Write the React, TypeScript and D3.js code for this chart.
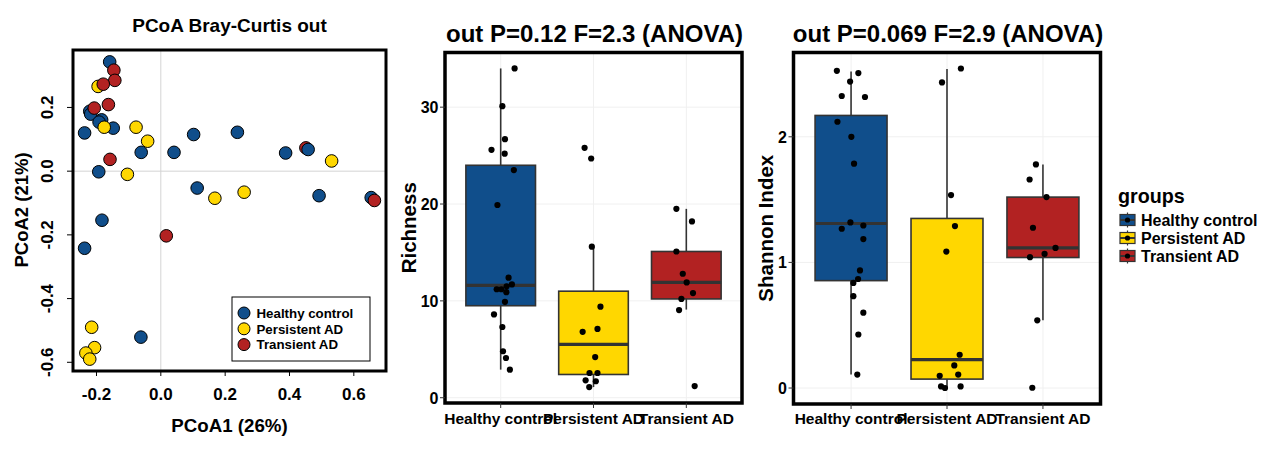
import React from "react";
import * as d3 from "d3";

const groups = ["Healthy control", "Persistent AD", "Transient AD"];
const groupColors = ["#104E8B", "#FFD700", "#B22222"];

// PCoA points (draw order)
const pcoaGroup = [
  0, 0, 0, 0, 0, 0, 0, 0, 0, 0, 0, 0, 0, 0, 2, 0, 0, 0, 0, 0, 0,
  1, 1, 1, 1, 1, 1, 1, 1, 1, 1, 1, 1,
  2, 2, 2, 2, 2, 2, 2, 2,
];
const pcoaX = [
  -0.159, -0.221, -0.218, -0.184, -0.192, -0.148, -0.237, -0.061, 0.041, 0.102, 0.238, -0.193, 0.113, 0.388, 0.451, 0.458, 0.492, 0.654, -0.183, -0.237, -0.062,
  -0.195, -0.176, -0.077, -0.041, -0.104, 0.168, 0.259, 0.531, -0.215, -0.206, -0.233, -0.221,
  -0.146, -0.143, -0.179, -0.207, -0.163, -0.158, 0.664, 0.017,
];
const pcoaY = [
  0.343, 0.188, 0.179, 0.161, 0.154, 0.135, 0.12, 0.059, 0.059, 0.115, 0.122, -0.002, -0.053, 0.057, 0.073, 0.068, -0.077, -0.083, -0.154, -0.242, -0.521,
  0.266, 0.138, 0.138, 0.094, -0.01, -0.085, -0.066, 0.032, -0.49, -0.554, -0.571, -0.59,
  0.317, 0.285, 0.273, 0.198, 0.209, 0.037, -0.092, -0.203,
];
const pcoaXTicks = [-0.2, 0.0, 0.2, 0.4, 0.6];
const pcoaYTicks = [-0.6, -0.4, -0.2, 0.0, 0.2];

// Richness
const richValues = [
  [34.0, 30.1, 26.7, 25.6, 25.2, 23.5, 19.9, 12.4, 11.7, 11.5, 11.2, 11.2, 10.9, 9.9, 8.6, 7.3, 4.8, 4.1, 2.9],
  [25.8, 24.7, 15.6, 9.4, 7.1, 6.8, 4.2, 2.55, 2.55, 1.8, 1.7, 1.1],
  [19.5, 18.2, 15.1, 12.8, 11.9, 10.8, 10.2, 9.05, 1.2],
];
const richJitter = [
  [0.15, 0.018, 0.046, -0.099, 0.043, 0.142, -0.035, 0.085, 0.121, 0.064, -0.043, 0.007, 0.061, 0.046, -0.072, 0.018, 0.025, 0.057, 0.099],
  [-0.096, -0.025, -0.018, 0.075, 0.043, -0.117, 0.018, -0.043, 0.043, -0.085, 0.025, -0.046],
  [-0.107, 0.061, -0.107, -0.038, 0.004, 0.072, -0.053, -0.078, 0.09],
];
const richLo = [2.9, 1.1, 9.1];
const richQ1 = [9.5, 2.4, 10.2];
const richMed = [11.6, 5.5, 11.9];
const richQ3 = [24.0, 11.0, 15.1];
const richHi = [34.0, 15.6, 19.5];
const richTicks = [0, 10, 20, 30];

// Shannon
const shanValues = [
  [2.525, 2.507, 2.44, 2.325, 2.317, 2.12, 2.0, 1.786, 1.318, 1.294, 1.268, 1.186, 0.936, 0.868, 0.837, 0.731, 0.6, 0.426, 0.107],
  [2.544, 2.433, 1.536, 1.289, 1.086, 0.265, 0.18, 0.097, 0.107, 0.013, 0.0, 0.013],
  [1.78, 1.66, 1.52, 1.276, 1.115, 1.068, 1.042, 0.539, 0.002],
];
const shanJitter = [
  [-0.148, 0.076, -0.01, -0.097, 0.145, -0.142, 0.003, 0.031, -0.007, 0.128, -0.097, 0.128, 0.093, 0.073, 0.024, 0.024, 0.128, 0.076, 0.065],
  [0.145, -0.052, 0.042, 0.083, -0.007, 0.132, 0.076, -0.076, 0.117, -0.062, -0.021, 0.142],
  [-0.073, -0.139, 0.037, -0.104, 0.131, 0.017, -0.135, -0.059, -0.111],
];
const shanLo = [0.107, 0.0, 0.54];
const shanQ1 = [0.855, 0.071, 1.039];
const shanMed = [1.31, 0.226, 1.115];
const shanQ3 = [2.17, 1.35, 1.52];
const shanHi = [2.52, 2.54, 1.78];
const shanTicks = [0, 1, 2];

const FONT = "'Liberation Sans', Arial, Helvetica, sans-serif";

function PCoA() {
  const left = 73, right = 386, top = 50, bottom = 371;
  const xe = d3.extent(pcoaX) as [number, number];
  const ye = d3.extent(pcoaY) as [number, number];
  const xp = (xe[1] - xe[0]) * 0.04;
  const yp = (ye[1] - ye[0]) * 0.04;
  const x = d3.scaleLinear().domain([xe[0] - xp, xe[1] + xp]).range([left, right]);
  const y = d3.scaleLinear().domain([ye[0] - yp, ye[1] + yp]).range([bottom, top]);
  const lx = 232, ly = 297;
  return (
    <g fontFamily={FONT} fontWeight="bold">
      <text x={229.5} y={32} textAnchor="middle" fontSize={19}>PCoA Bray-Curtis out</text>
      <line x1={x(0)} x2={x(0)} y1={top} y2={bottom} stroke="#d4d4d4" strokeWidth={1} />
      <line x1={left} x2={right} y1={y(0)} y2={y(0)} stroke="#d4d4d4" strokeWidth={1} />
      {pcoaX.map((v, i) => (
        <circle key={i} cx={x(v)} cy={y(pcoaY[i])} r={6.3} fill={groupColors[pcoaGroup[i]]} stroke="#000" strokeWidth={1} />
      ))}
      <rect x={lx} y={ly} width={138} height={64} fill="#fff" stroke="#000" strokeWidth={1} />
      {groups.map((g, i) => (
        <g key={g}>
          <circle cx={lx + 12} cy={ly + 16 + i * 15.8} r={6} fill={groupColors[i]} stroke="#000" strokeWidth={1} />
          <text x={lx + 24.5} y={ly + 16 + i * 15.8 + 4.7} fontSize={13.3}>{g}</text>
        </g>
      ))}
      <rect x={left} y={top} width={right - left} height={bottom - top} fill="none" stroke="#000" strokeWidth={3} />
      {pcoaXTicks.map((t) => (
        <g key={t}>
          <line x1={x(t)} x2={x(t)} y1={bottom} y2={bottom + 5} stroke="#000" strokeWidth={1} />
          <text x={x(t)} y={400} textAnchor="middle" fontSize={17}>{t.toFixed(1)}</text>
        </g>
      ))}
      {pcoaYTicks.map((t) => (
        <g key={t}>
          <line x1={left - 6} x2={left} y1={y(t)} y2={y(t)} stroke="#000" strokeWidth={1} />
          <text transform={`translate(53,${y(t)}) rotate(-90)`} textAnchor="middle" fontSize={17}>{t.toFixed(1)}</text>
        </g>
      ))}
      <text x={229.5} y={432} textAnchor="middle" fontSize={18.7}>PCoA1 (26%)</text>
      <text transform={`translate(28,210) rotate(-90)`} textAnchor="middle" fontSize={18.5}>PCoA2 (21%)</text>
    </g>
  );
}

type BoxProps = {
  left: number; right: number; top: number; bottom: number;
  title: string; ylab: string; ylabX: number;
  values: number[][]; jitter: number[][];
  lo: number[]; q1: number[]; med: number[]; q3: number[]; hi: number[];
  ticks: number[];
};

function BoxPanel(p: BoxProps) {
  const all = p.values.flat();
  const ext = d3.extent(all) as [number, number];
  const pad = (ext[1] - ext[0]) * 0.05;
  const y = d3.scaleLinear().domain([ext[0] - pad, ext[1] + pad]).range([p.bottom, p.top]);
  const x = d3.scalePoint<string>().domain(groups).range([p.left, p.right]).padding(0.6);
  const step = x.step();
  const bw = step * 0.75;
  const cx = (p.left + p.right) / 2;
  const cy = (p.top + p.bottom) / 2;
  return (
    <g fontFamily={FONT} fontWeight="bold">
      <text x={cx + 1} y={42} textAnchor="middle" fontSize={24}>{p.title}</text>
      {p.ticks.map((t) => (
        <line key={"g" + t} x1={p.left} x2={p.right} y1={y(t)} y2={y(t)} stroke="#f0f0f0" strokeWidth={1} />
      ))}
      {groups.map((g) => (
        <line key={"gv" + g} x1={x(g)} x2={x(g)} y1={p.top} y2={p.bottom} stroke="#f0f0f0" strokeWidth={1} />
      ))}
      {groups.map((g, i) => {
        const c = x(g) as number;
        return (
          <g key={g}>
            <line x1={c} x2={c} y1={y(p.hi[i])} y2={y(p.q3[i])} stroke="#333" strokeWidth={1.6} />
            <line x1={c} x2={c} y1={y(p.q1[i])} y2={y(p.lo[i])} stroke="#333" strokeWidth={1.6} />
            <rect x={c - bw / 2} y={y(p.q3[i])} width={bw} height={y(p.q1[i]) - y(p.q3[i])} fill={groupColors[i]} stroke="#333" strokeWidth={1.6} />
            <line x1={c - bw / 2} x2={c + bw / 2} y1={y(p.med[i])} y2={y(p.med[i])} stroke="#333" strokeWidth={3.2} />
          </g>
        );
      })}
      {groups.map((g, i) =>
        p.values[i].map((v, j) => (
          <circle key={g + j} cx={(x(g) as number) + p.jitter[i][j] * step} cy={y(v)} r={3.1} fill="#000" />
        ))
      )}
      <rect x={p.left} y={p.top} width={p.right - p.left} height={p.bottom - p.top} fill="none" stroke="#000" strokeWidth={3.5} />
      {p.ticks.map((t) => (
        <g key={t}>
          <line x1={p.left - 5} x2={p.left} y1={y(t)} y2={y(t)} stroke="#333" strokeWidth={1} />
          <text x={p.left - 6.5} y={y(t) + 5.8} textAnchor="end" fontSize={16}>{t}</text>
        </g>
      ))}
      {groups.map((g) => (
        <g key={"xt" + g}>
          <line x1={x(g)} x2={x(g)} y1={p.bottom} y2={p.bottom + 5} stroke="#333" strokeWidth={1} />
          <text x={x(g)} y={424} textAnchor="middle" fontSize={15.5}>{g}</text>
        </g>
      ))}
      <text transform={`translate(${p.ylabX},${cy}) rotate(-90)`} textAnchor="middle" fontSize={20.5}>{p.ylab}</text>
    </g>
  );
}

function Legend() {
  const kx = 1119, ks = 17;
  return (
    <g fontFamily={FONT} fontWeight="bold">
      <text x={1118} y={203} fontSize={19.7}>groups</text>
      {groups.map((g, i) => {
        const cyy = 220 + i * 18;
        const ty = cyy - ks / 2;
        return (
          <g key={g}>
            <line x1={kx + ks / 2} x2={kx + ks / 2} y1={ty + 1} y2={ty + ks - 1} stroke="#333" strokeWidth={1.2} />
            <rect x={kx + 1} y={ty + 3} width={ks - 2} height={ks - 6} fill={groupColors[i]} stroke="#333" strokeWidth={1.2} />
            <line x1={kx + 1} x2={kx + ks - 1} y1={cyy} y2={cyy} stroke="#333" strokeWidth={2} />
            <circle cx={kx + ks / 2} cy={cyy} r={2.6} fill="#000" />
            <text x={1141} y={cyy + 5.8} fontSize={16}>{g}</text>
          </g>
        );
      })}
    </g>
  );
}

export default function App() {
  return (
    <svg width={1269} height={449} style={{ position: "absolute", left: 0, top: 0, background: "#fff" }}>
      <rect x={0} y={0} width={1269} height={449} fill="#fff" />
      <PCoA />
      <BoxPanel
        left={445} right={742} top={52.5} bottom={403}
        title="out P=0.12 F=2.3 (ANOVA)" ylab="Richness" ylabX={416}
        values={richValues} jitter={richJitter}
        lo={richLo} q1={richQ1} med={richMed} q3={richQ3} hi={richHi} ticks={richTicks}
      />
      <BoxPanel
        left={793.5} right={1100.5} top={52.5} bottom={404}
        title="out P=0.069 F=2.9 (ANOVA)" ylab="Shannon Index" ylabX={773}
        values={shanValues} jitter={shanJitter}
        lo={shanLo} q1={shanQ1} med={shanMed} q3={shanQ3} hi={shanHi} ticks={shanTicks}
      />
      <Legend />
    </svg>
  );
}
